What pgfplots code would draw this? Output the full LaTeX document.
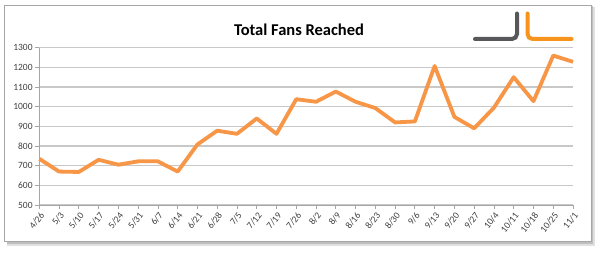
\documentclass[border=0pt]{standalone}
\usepackage{pgfplots}
\pgfplotsset{compat=1.18}
\usepackage{fontspec}
\setmainfont{Carlito}
\definecolor{lineorange}{HTML}{F79646}
\definecolor{logogrey}{HTML}{58585A}
\definecolor{logoorange}{HTML}{F7941D}
\definecolor{gridgrey}{HTML}{C8C8C8}
\definecolor{axisgrey}{HTML}{A6A6A6}
\definecolor{labelgrey}{HTML}{404040}
\begin{document}
\begin{tikzpicture}
\useasboundingbox (0pt,0pt) rectangle (600pt,252pt);
% frame with shadow
\fill[black!12] (7pt,6.5pt) rectangle (594.5pt,244.5pt);
\fill[black!25] (6.5pt,8pt) rectangle (593pt,245.5pt);
\filldraw[fill=white, draw=black!35, line width=0.8pt] (4.5pt,10.5pt) rectangle (591pt,247pt);
% title
\node[font=\fontsize{16.5}{18}\selectfont\bfseries] at (299pt,222.5pt) {Total Fans Reached};
% logo
\draw[line width=4pt, logogrey, line cap=round, rounded corners=5pt] (475pt,213pt) -- (517pt,213pt) -- (517pt,238.5pt);
\draw[line width=4pt, logoorange, line cap=round, rounded corners=5pt] (527.5pt,238.5pt) -- (527.5pt,213pt) -- (571.5pt,213pt);
\begin{axis}[
  at={(39.3pt,47pt)}, anchor=south west,
  scale only axis, width=533.7pt, height=157.3pt,
  xmin=0, xmax=27, ymin=500, ymax=1300,
  ytick={500,600,...,1300},
  xtick={0,...,27},
  xticklabels={4/26,5/3,5/10,5/17,5/24,5/31,6/7,6/14,6/21,6/28,7/5,7/12,7/19,7/26,8/2,8/9,8/16,8/23,8/30,9/6,9/13,9/20,9/27,10/4,10/11,10/18,10/25,11/1},
  x tick label style={rotate=52, anchor=north east, inner sep=1.5pt, font=\fontsize{9.5}{10}\selectfont, text=labelgrey},
  y tick label style={font=\fontsize{9.5}{10}\selectfont, text=labelgrey, inner sep=2.5pt},
  /pgf/number format/assume math mode=true,
  /pgf/number format/set thousands separator={},
  axis lines*=left,
  axis line style={axisgrey, line width=0.8pt},
  tick style={axisgrey, line width=0.8pt},
  tick align=outside,
  major tick length=4pt,
  xtick pos=bottom, ytick pos=left,
  ymajorgrids, grid style={gridgrey, line width=1.1pt},
  clip=false,
]
\addplot[lineorange, line width=3.8pt, line join=round] coordinates {
(0,735) (1,670) (2,668) (3,730) (4,705) (5,722) (6,722) (7,670) (8,808) (9,878)
(10,862) (11,940) (12,862) (13,1038) (14,1025) (15,1077) (16,1025) (17,993) (18,920) (19,925)
(20,1207) (21,948) (22,890) (23,995) (24,1150) (25,1028) (26,1260) (27,1228)
};
\end{axis}
\end{tikzpicture}
\end{document}
